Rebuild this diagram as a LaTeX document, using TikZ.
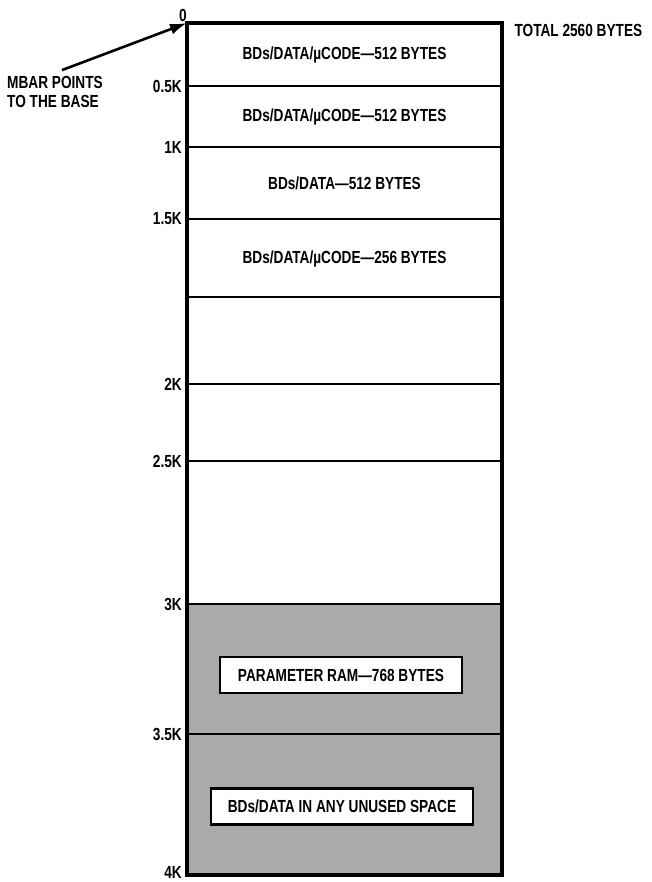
\documentclass[tikz,border=0pt]{standalone}
\usepackage{fontspec}
\setmainfont[FakeStretch=0.78]{Liberation Sans}
\usetikzlibrary{arrows.meta,positioning}
\definecolor{ramgray}{RGB}{170,170,170}

\begin{document}
\begin{tikzpicture}[x=1pt,y=-1pt,every node/.style={font=\fontsize{17.5}{19}\selectfont\bfseries}]
  \tikzstyle{wall}=[line width=3.4pt]
  \tikzstyle{sep}=[line width=2.8pt]
  \tikzstyle{tag}=[anchor=east,inner sep=1pt]
  \tikzstyle{plate}=[draw,line width=2.4pt,fill=white,minimum height=36pt,inner xsep=8pt]
  \tikzstyle{f}=[-{Latex[length=17pt,width=11pt]},line width=2.6pt]
  \useasboundingbox (0,0) rectangle (651,882);

  % -- shaded parameter area --
  \fill[ramgray] (187,604) rectangle (502,875);

  % -- separators and address tags --
  \foreach \y/\t in {86/0.5K,147/1K,219/1.5K,297/,384/2K,461/2.5K,604/3K,734/3.5K}{
    \draw[sep] (187,\y) -- (502,\y);
    \node[tag,name=tag\y] at (183,\y) {\t};
  }
  \node[tag] (tag0) at (188,15) {0};
  \node[tag] (tag4k) at (183,872) {4K};

  % -- outline of the 4K map --
  \coordinate (base) at (187,23);
  \draw[wall] (base) rectangle (502,875);

  % -- region labels --
  \node (r1) at (344.5,54.5) {BDs/DATA/µCODE—512 BYTES};
  \node (r2) at (344.5,116.5) {BDs/DATA/µCODE—512 BYTES};
  \node (r3) at (344.5,183) {BDs/DATA—512 BYTES};
  \node (r4) at (344.5,258.5) {BDs/DATA/µCODE—256 BYTES};
  \node[plate,minimum width=242pt] (pram) at (341,675) {PARAMETER RAM—768 BYTES};
  \node[plate,minimum width=262pt] (free) at (342,806.5) {BDs/DATA IN ANY UNUSED SPACE};
  \node[anchor=west] (total) at (511,30) {TOTAL 2560 BYTES};

  % -- MBAR pointer --
  \node[align=left,anchor=west,inner sep=1pt] (mbar) at (6,92) {MBAR POINTS\\TO THE BASE};
  \draw[f] ([xshift=7pt,yshift=5pt]mbar.north) -- (base);
\end{tikzpicture}
\end{document}
